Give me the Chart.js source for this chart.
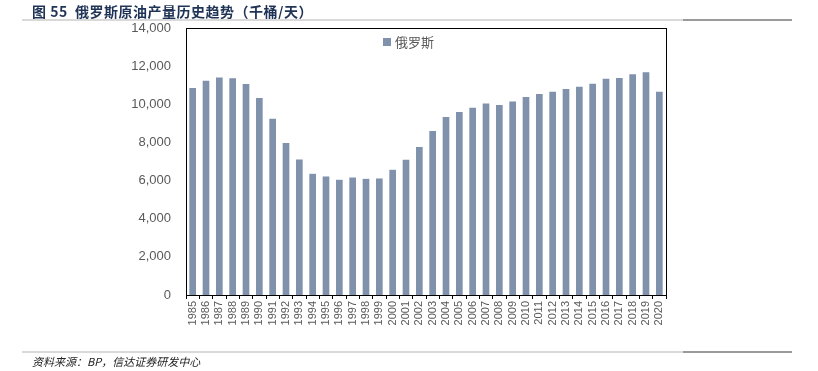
<!DOCTYPE html>
<html>
<head>
<meta charset="utf-8">
<script src="https://cdn.jsdelivr.net/npm/chart.js@4/dist/chart.umd.min.js"></script>
<style>
  body { margin: 0; background: #fff; }
  #wrap { position: relative; width: 818px; height: 371px; overflow: hidden; }
  #chart { position: absolute; left: 0; top: 0; }
  .title { position: absolute; left: 32px; top: 1px; font: bold 14px "Noto Sans CJK SC", sans-serif; color: #1f3356; letter-spacing: 0.5px; }
  .rule { position: absolute; left: 22px; width: 661px; height: 2px; background: #d9d9d9; }
  .rule2 { position: absolute; left: 683px; width: 109px; height: 2px; background: #9a9a9a; }
  .source { position: absolute; left: 32px; top: 353px; font: italic 11px "Noto Sans CJK SC", sans-serif; color: #222; }
</style>
</head>
<body>
<div id="wrap">
  <canvas id="chart" width="818" height="371"></canvas>
  <div class="title">图 55&nbsp; 俄罗斯原油产量历史趋势（千桶/天）</div>
  <div class="rule" style="top:19px"></div><div class="rule2" style="top:19px"></div>
  <div class="rule" style="top:351px"></div><div class="rule2" style="top:351px"></div>
  <div class="source">资料来源：BP，信达证券研发中心</div>
</div>
<script>
// 数据
const years = ['1985','1986','1987','1988','1989','1990','1991','1992','1993','1994','1995','1996',
  '1997','1998','1999','2000','2001','2002','2003','2004','2005','2006','2007','2008','2009','2010',
  '2011','2012','2013','2014','2015','2016','2017','2018','2019','2020'];
const russiaOutput = [10850, 11235, 11410, 11360, 11060, 10325, 9240, 7965, 7105, 6355, 6215, 6040,
  6160, 6090, 6110, 6565, 7090, 7755, 8595, 9330, 9590, 9820, 10045, 9960, 10150, 10380,
  10535, 10660, 10800, 10920, 11080, 11340, 11375, 11570, 11675, 10660];
const yTicks = [0, 2000, 4000, 6000, 8000, 10000, 12000, 14000];

const barColor = '#7f91ab';
const tickFont = { family: '"Liberation Sans", Arial, sans-serif', size: 13 };

// 图框 + 图例
const framePlugin = {
  id: 'frame',
  afterDraw(chart) {
    const { ctx, chartArea: a } = chart;
    ctx.save();
    ctx.strokeStyle = '#000';
    ctx.lineWidth = 1;
    ctx.strokeRect(a.left + 0.5, a.top + 0.5, a.right - a.left, a.bottom - a.top);
    // legend
    ctx.fillStyle = barColor;
    ctx.fillRect(383, 38, 8, 8);
    ctx.fillStyle = '#595959';
    ctx.font = '13px "Noto Sans CJK SC", sans-serif';
    ctx.textBaseline = 'middle';
    ctx.fillText(chart.data.datasets[0].label, 395, 42);
    ctx.restore();
  }
};

new Chart(document.getElementById('chart'), {
  type: 'bar',
  data: {
    labels: years,
    datasets: [{
      label: '俄罗斯',
      data: russiaOutput,
      backgroundColor: barColor,
      borderWidth: 0,
      barPercentage: 0.5,
      categoryPercentage: 1
    }]
  },
  options: {
    responsive: false,
    animation: false,
    layout: { padding: { left: 0, top: 28, right: 152, bottom: 0 } },
    plugins: { legend: { display: false }, tooltip: { enabled: false } },
    scales: {
      x: {
        afterFit(s) { s.height = 76; },
        grid: { offset: true, drawOnChartArea: false, tickLength: 4, color: '#000' },
        border: { color: '#000' },
        ticks: { minRotation: 90, maxRotation: 90, autoSkip: false, padding: 2, color: '#595959',
          font: { family: '"Liberation Sans", Arial, sans-serif', size: 11 } }
      },
      y: {
        min: 0, max: 14000,
        afterFit(s) { s.width = 186; },
        afterBuildTicks(s) { s.ticks = yTicks.map(v => ({ value: v })); },
        grid: { display: false, drawTicks: false },
        border: { color: '#000' },
        ticks: { padding: 15, color: '#595959', font: tickFont,
          callback: v => v.toLocaleString('en-US') }
      }
    }
  },
  plugins: [framePlugin]
});
</script>
</body>
</html>
